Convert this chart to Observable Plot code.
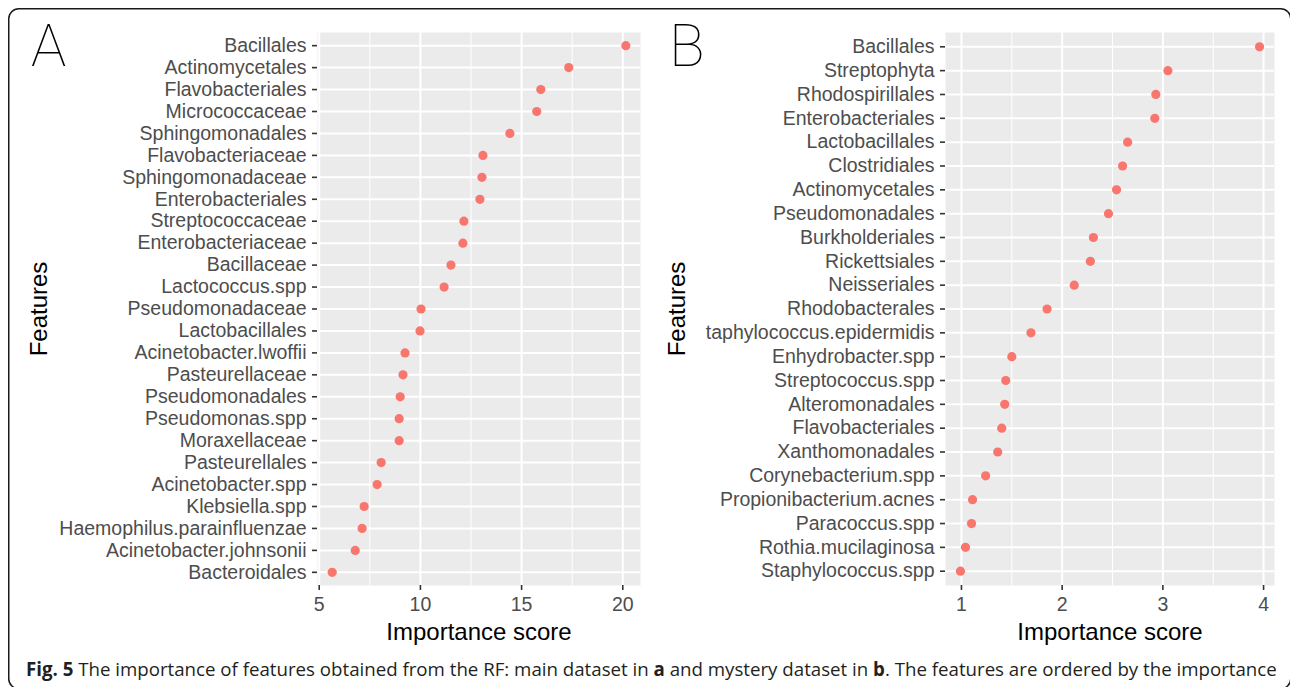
<!DOCTYPE html>
<html><head><meta charset="utf-8">
<script src="https://cdn.jsdelivr.net/npm/d3@7"></script>
<script src="https://cdn.jsdelivr.net/npm/@observablehq/plot@0.6"></script>
<style>
body{margin:0;background:#fff;}
#wrap{position:relative;width:1290px;height:687px;overflow:hidden;background:#fff;}
.panel{position:absolute;top:0;}
#overlay{position:absolute;left:0;top:0;pointer-events:none;}
</style></head><body>
<div id="wrap">
<div id="pa" class="panel" style="left:0px"></div>
<div id="pb" class="panel" style="left:640px"></div>
<svg id="overlay" width="1290" height="687">
<rect x="8.75" y="8.75" width="1282" height="680" rx="10" ry="10" fill="none" stroke="#1a1a1a" stroke-width="1.5"></rect>
<text x="31" y="66" font-family="Roboto, 'Open Sans', sans-serif" font-weight="100" font-size="59" fill="#000">A</text>
<text x="669" y="66" font-family="Roboto, 'Open Sans', sans-serif" font-weight="100" font-size="59" fill="#000">B</text>
<text id="cap" x="26" y="676" font-family="'Open Sans', sans-serif" font-size="19" fill="#231F20"><tspan font-weight="bold">Fig. 5</tspan> The importance of features obtained from the RF: main dataset in <tspan font-weight="bold">a</tspan> and mystery dataset in <tspan font-weight="bold">b</tspan>. The features are ordered by the importance</text>
</svg>
</div>
<script>
const featuresA = ["Bacillales","Actinomycetales","Flavobacteriales","Micrococcaceae","Sphingomonadales","Flavobacteriaceae","Sphingomonadaceae","Enterobacteriales","Streptococcaceae","Enterobacteriaceae","Bacillaceae","Lactococcus.spp","Pseudomonadaceae","Lactobacillales","Acinetobacter.lwoffii","Pasteurellaceae","Pseudomonadales","Pseudomonas.spp","Moraxellaceae","Pasteurellales","Acinetobacter.spp","Klebsiella.spp","Haemophilus.parainfluenzae","Acinetobacter.johnsonii","Bacteroidales"];
const scoresA = [20.15,17.33,15.95,15.75,14.42,13.09,13.04,12.94,12.15,12.10,11.51,11.17,10.03,9.98,9.24,9.14,9.0,8.95,8.95,8.06,7.86,7.22,7.12,6.78,5.64];
const ticksA = [5,10,15,20];
const minorTicksA = [7.5,12.5,17.5];

const featuresB = ["Bacillales","Streptophyta","Rhodospirillales","Enterobacteriales","Lactobacillales","Clostridiales","Actinomycetales","Pseudomonadales","Burkholderiales","Rickettsiales","Neisseriales","Rhodobacterales","taphylococcus.epidermidis","Enhydrobacter.spp","Streptococcus.spp","Alteromonadales","Flavobacteriales","Xanthomonadales","Corynebacterium.spp","Propionibacterium.acnes","Paracoccus.spp","Rothia.mucilaginosa","Staphylococcus.spp"];
const scoresB = [3.96,3.05,2.93,2.92,2.65,2.60,2.54,2.46,2.31,2.28,2.12,1.85,1.69,1.50,1.44,1.43,1.40,1.36,1.24,1.11,1.10,1.04,0.99];
const ticksB = [1,2,3,4];
const minorTicksB = [1.5,2.5,3.5];

function panel({features, scores, ticks, minor, width, marginLeft, marginRight, featuresOffset}) {
  const data = features.map((f, i) => ({feature: f, score: scores[i]}));
  const [lo, hi] = d3.extent(scores);
  const pad = (hi - lo) * 0.05;
  return Plot.plot({
    width, height: 650, marginTop: 32, marginBottom: 65, marginLeft, marginRight,
    style: {background: "transparent", fontFamily: '"Liberation Sans", Arial, Helvetica, sans-serif', fontSize: "19.5px", overflow: "visible"},
    x: {domain: [lo - pad, hi + pad]},
    y: {type: "point", domain: features, padding: 0.6, round: false},
    marks: [
      Plot.frame({fill: "#EBEBEB", stroke: "none"}),
      Plot.gridX(minor, {stroke: "#fff", strokeOpacity: 1, strokeWidth: 1}),
      Plot.gridX(ticks, {stroke: "#fff", strokeOpacity: 1, strokeWidth: 2}),
      Plot.gridY({stroke: "#fff", strokeOpacity: 1, strokeWidth: 2}),
      Plot.axisX(ticks, {tickSize: 5, tickPadding: 7, stroke: "#333", strokeWidth: 1.6, fill: "#4D4D4D", label: null}),
      Plot.axisX([], {label: "Importance score", labelAnchor: "center", labelOffset: 54, labelArrow: "none", fill: "#000", fontSize: "24px", tickSize: 0}),
      Plot.axisY({tickSize: 5, tickPadding: 6, stroke: "#333", strokeWidth: 1.6, fill: "#4D4D4D", label: null}),
      Plot.axisY([], {label: "Features", labelAnchor: "center", labelOffset: featuresOffset, labelArrow: "none", fill: "#000", fontSize: "24px", tickSize: 0}),
      Plot.dot(data, {x: "score", y: "feature", fill: "#F8766D", stroke: "none", r: 4.6})
    ]
  });
}

document.getElementById("pa").appendChild(panel({features: featuresA, scores: scoresA, ticks: ticksA, minor: minorTicksA, width: 660, marginLeft: 317, marginRight: 20, featuresOffset: 288}));
document.getElementById("pb").appendChild(panel({features: featuresB, scores: scoresB, ticks: ticksB, minor: minorTicksB, width: 650, marginLeft: 305, marginRight: 16, featuresOffset: 278}));

const cap = document.getElementById("cap");
const w = cap.getComputedTextLength();
const sx = 1252 / w;
cap.setAttribute("transform", `translate(26,0) scale(${sx},1) translate(-26,0)`);
</script>
</body></html>
